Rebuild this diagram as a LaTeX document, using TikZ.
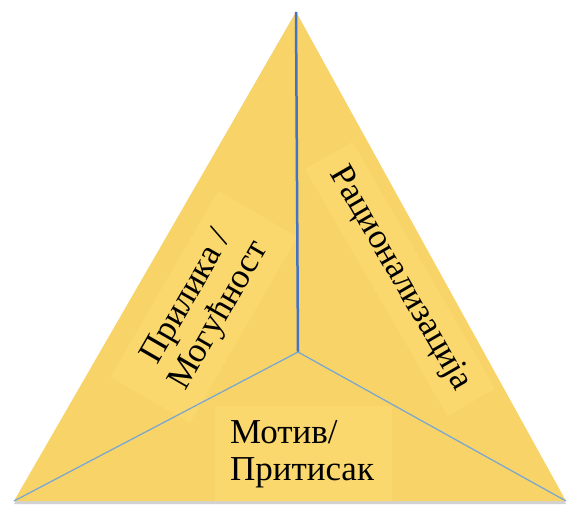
\documentclass[tikz,border=0pt]{standalone}
\usepackage{fontspec}
\setmainfont{Liberation Serif}
\usetikzlibrary{positioning}
\definecolor{gold}{HTML}{F8D468}
\definecolor{goldlight}{HTML}{FBD86D}
\definecolor{edgeblue}{HTML}{4472C4}
\definecolor{thinblue}{HTML}{7CA7CF}

\begin{document}
\begin{tikzpicture}[
  x=1pt,y=1pt,
  every node/.style={font=\fontsize{35}{37}\selectfont},
  lbl/.style={fill=goldlight,inner sep=12pt,text=black},
  spoke/.style={thinblue,line width=1.3pt}
]
\useasboundingbox (0,0) rectangle (569,509);
\coordinate (top) at (296,497);
\coordinate (bl) at (14,8);
\coordinate (br) at (566,8);
\coordinate (mid) at (298,157);
% shadow and body
\fill[gray!35] ([yshift=-3pt]bl) -- ([yshift=-3pt]br) -- (top) -- cycle;
\fill[gold] (bl) -- (br) -- (top) -- cycle;
\begin{scope}
\clip (bl) -- (br) -- (top) -- cycle;
\node[lbl,rotate=60,align=center,minimum width=215pt] (chance) at (204,202) {Прилика /\\Могућност};
\node[lbl,rotate=-60,minimum width=285pt] (ratio) at (400,230) {Рационализација};
\node[lbl,align=left,text width=147pt,inner xsep=15pt,minimum height=97pt,anchor=south] (motive) at (303.5,6) {Мотив/\\Притисак};
\end{scope}
\draw[edgeblue,line width=2.5pt] (top) -- (mid);
\draw[spoke] (mid) -- (bl);
\draw[spoke] (mid) -- (br);
\end{tikzpicture}
\end{document}
